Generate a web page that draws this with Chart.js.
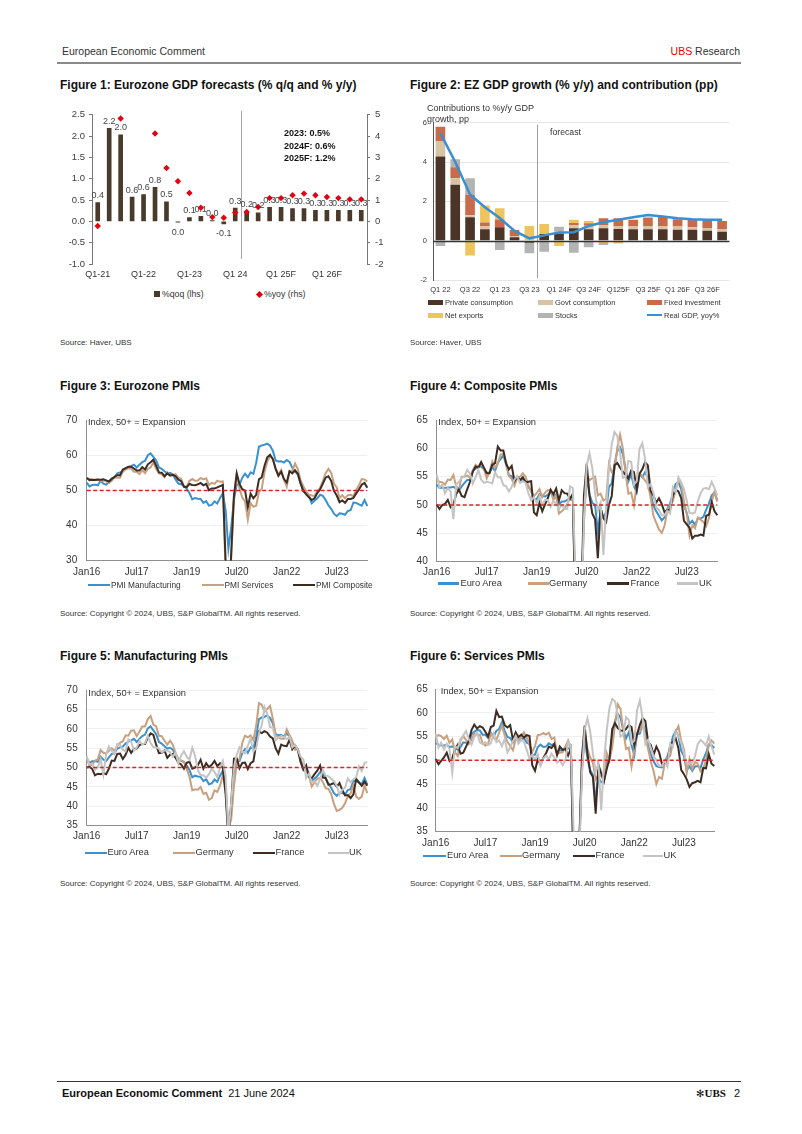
<!DOCTYPE html>
<html>
<head>
<meta charset="utf-8">
<title>European Economic Comment</title>
<script src="https://cdn.jsdelivr.net/npm/chart.js@4.4.1/dist/chart.umd.min.js"></script>
<style>
html,body{margin:0;padding:0;background:#fff;}
body{width:802px;height:1134px;position:relative;overflow:hidden;font-family:'Liberation Sans',Arial,sans-serif;color:#222;}
.t{position:absolute;white-space:nowrap;color:#333;}
canvas{position:absolute;}
.blk{position:absolute;}
.ttl{font-size:12px;line-height:14px;font-weight:bold;color:#111;}
.src{font-size:8px;line-height:10px;color:#333;}
.lg{font-size:9.3px;line-height:11px;color:#333;}
.ln{position:absolute;height:2.5px;}
</style>
</head>
<body>

<!-- header -->
<div class="t" style="left:62px;top:45px;font-size:10.5px;line-height:12px;">European Economic Comment</div>
<div class="t" style="right:62px;top:45px;font-size:10.5px;line-height:12px;"><span style="color:#e60000">UBS</span> Research</div>
<div class="blk" style="left:57px;top:62px;width:684px;height:2px;background:#8a8a8a"></div>

<!-- titles -->
<div class="t ttl" style="left:60px;top:78px;">Figure 1: Eurozone GDP forecasts (% q/q and % y/y)</div>
<div class="t ttl" style="left:410px;top:78px;">Figure 2: EZ GDP growth (% y/y) and contribution (pp)</div>
<div class="t ttl" style="left:60px;top:379px;">Figure 3: Eurozone PMIs</div>
<div class="t ttl" style="left:410px;top:379px;">Figure 4: Composite PMIs</div>
<div class="t ttl" style="left:60px;top:649px;">Figure 5: Manufacturing PMIs</div>
<div class="t ttl" style="left:410px;top:649px;">Figure 6: Services PMIs</div>

<!-- canvases -->
<canvas id="c1" width="340" height="180" style="left:55px;top:104px;width:340px;height:180px"></canvas>
<canvas id="c2" width="335" height="190" style="left:405px;top:110px;width:335px;height:190px"></canvas>
<canvas id="c3" width="320" height="175" style="left:55px;top:405px;width:320px;height:175px"></canvas>
<canvas id="c4" width="320" height="175" style="left:405px;top:405px;width:320px;height:175px"></canvas>
<canvas id="c5" width="320" height="175" style="left:55px;top:675px;width:320px;height:175px"></canvas>
<canvas id="c6" width="320" height="175" style="left:405px;top:675px;width:320px;height:175px"></canvas>

<!-- chart 1 annotations & legend -->
<div class="t" style="left:284px;top:127.5px;font-size:9px;line-height:11px;font-weight:bold;color:#111">2023: 0.5%</div>
<div class="t" style="left:284px;top:140.5px;font-size:9px;line-height:11px;font-weight:bold;color:#111">2024F: 0.6%</div>
<div class="t" style="left:284px;top:152.5px;font-size:9px;line-height:11px;font-weight:bold;color:#111">2025F: 1.2%</div>
<div class="blk" style="left:154px;top:291.3px;width:6px;height:6px;background:#4a3a2c"></div>
<div class="t" style="left:162px;top:289.3px;font-size:8.7px;line-height:10px;">%qoq (lhs)</div>
<div class="blk" style="left:256.5px;top:291.8px;width:5px;height:5px;background:#e3000f;transform:rotate(45deg)"></div>
<div class="t" style="left:264px;top:289.3px;font-size:8.7px;line-height:10px;">%yoy (rhs)</div>

<!-- chart 2 annotations & legend -->
<div class="t" style="left:427px;top:102.5px;font-size:9px;line-height:11px;">Contributions to %y/y GDP</div>
<div class="t" style="left:427px;top:113.8px;font-size:9px;line-height:11px;">growth, pp</div>
<div class="t" style="left:550px;top:127px;font-size:8.7px;line-height:10px;">forecast</div>
<div class="blk" style="left:428px;top:300.2px;width:15px;height:5px;background:#4a3528"></div>
<div class="t" style="left:445px;top:298.2px;font-size:7.5px;line-height:9px;">Private consumption</div>
<div class="blk" style="left:538px;top:300.2px;width:15px;height:5px;background:#d9c3a5"></div>
<div class="t" style="left:555px;top:298.2px;font-size:7.5px;line-height:9px;">Govt consumption</div>
<div class="blk" style="left:647px;top:300.2px;width:15px;height:5px;background:#c96a4a"></div>
<div class="t" style="left:664px;top:298.2px;font-size:7.5px;line-height:9px;">Fixed investment</div>
<div class="blk" style="left:428px;top:312.5px;width:15px;height:5px;background:#eec55a"></div>
<div class="t" style="left:445px;top:310.5px;font-size:7.5px;line-height:9px;">Net exports</div>
<div class="blk" style="left:538px;top:312.5px;width:15px;height:5px;background:#b3b3b3"></div>
<div class="t" style="left:555px;top:310.5px;font-size:7.5px;line-height:9px;">Stocks</div>
<div class="blk" style="left:647px;top:314px;width:15px;height:2px;background:#3a8fd0"></div>
<div class="t" style="left:664px;top:310.5px;font-size:7.5px;line-height:9px;">Real GDP, yoy%</div>

<!-- PMI chart notes -->
<div class="t" style="left:88px;top:417.2px;font-size:9.3px;line-height:11px;">Index, 50+ = Expansion</div>
<div class="t" style="left:438.3px;top:417.2px;font-size:9.3px;line-height:11px;">Index, 50+ = Expansion</div>
<div class="t" style="left:88.3px;top:687.8px;font-size:9.3px;line-height:11px;">Index, 50+ = Expansion</div>
<div class="t" style="left:440.7px;top:685.5px;font-size:9.3px;line-height:11px;">Index, 50+ = Expansion</div>

<!-- chart 3 legend -->
<div class="ln" style="left:88.3px;top:583.8px;width:22px;background:#3a91d0"></div>
<div class="t" style="left:111px;top:580px;font-size:8.3px;line-height:10px;">PMI Manufacturing</div>
<div class="ln" style="left:201.7px;top:583.8px;width:22px;background:#c9a07e"></div>
<div class="t" style="left:224.5px;top:580px;font-size:8.3px;line-height:10px;">PMI Services</div>
<div class="ln" style="left:293.3px;top:583.8px;width:22px;background:#3e2c22"></div>
<div class="t" style="left:316px;top:580px;font-size:8.3px;line-height:10px;">PMI Composite</div>

<!-- chart 4 legend -->
<div class="ln" style="left:438.3px;top:582px;width:21px;background:#3a91d0"></div>
<div class="t lg" style="left:460.5px;top:577.8px;">Euro Area</div>
<div class="ln" style="left:527.5px;top:582px;width:21px;background:#c9a07e"></div>
<div class="t lg" style="left:549px;top:577.8px;">Germany</div>
<div class="ln" style="left:607px;top:582px;width:22px;background:#3e2c22"></div>
<div class="t lg" style="left:630.5px;top:577.8px;">France</div>
<div class="ln" style="left:677px;top:582px;width:21px;background:#c4c4c4"></div>
<div class="t lg" style="left:699px;top:577.8px;">UK</div>

<!-- chart 5 legend -->
<div class="ln" style="left:85px;top:851.5px;width:22px;background:#3a91d0"></div>
<div class="t lg" style="left:107.5px;top:847.2px;">Euro Area</div>
<div class="ln" style="left:173.3px;top:851.5px;width:22px;background:#c9a07e"></div>
<div class="t lg" style="left:195.5px;top:847.2px;">Germany</div>
<div class="ln" style="left:253.3px;top:851.5px;width:22px;background:#3e2c22"></div>
<div class="t lg" style="left:275.5px;top:847.2px;">France</div>
<div class="ln" style="left:327.5px;top:851.5px;width:21px;background:#c4c4c4"></div>
<div class="t lg" style="left:349px;top:847.2px;">UK</div>

<!-- chart 6 legend -->
<div class="ln" style="left:423.3px;top:854.5px;width:23px;background:#3a91d0"></div>
<div class="t lg" style="left:447px;top:850.2px;">Euro Area</div>
<div class="ln" style="left:500px;top:854.5px;width:22px;background:#c9a07e"></div>
<div class="t lg" style="left:522px;top:850.2px;">Germany</div>
<div class="ln" style="left:573.3px;top:854.5px;width:22px;background:#3e2c22"></div>
<div class="t lg" style="left:595.5px;top:850.2px;">France</div>
<div class="ln" style="left:643px;top:854.5px;width:20px;background:#c4c4c4"></div>
<div class="t lg" style="left:663.5px;top:850.2px;">UK</div>

<!-- sources -->
<div class="t src" style="left:60px;top:338px;">Source: Haver, UBS</div>
<div class="t src" style="left:410px;top:338px;">Source: Haver, UBS</div>
<div class="t src" style="left:60px;top:609px;">Source: Copyright © 2024, UBS, S&amp;P GlobalTM. All rights reserved.</div>
<div class="t src" style="left:410px;top:609px;">Source: Copyright © 2024, UBS, S&amp;P GlobalTM. All rights reserved.</div>
<div class="t src" style="left:60px;top:879px;">Source: Copyright © 2024, UBS, S&amp;P GlobalTM. All rights reserved.</div>
<div class="t src" style="left:410px;top:879px;">Source: Copyright © 2024, UBS, S&amp;P GlobalTM. All rights reserved.</div>

<!-- footer -->
<div class="blk" style="left:57px;top:1081px;width:684px;height:1px;background:#333"></div>
<div class="t" style="left:62px;top:1087px;font-size:11px;line-height:13px;color:#111"><b>European Economic Comment</b><span style="margin-left:6px">21 June 2024</span></div>
<div class="t" style="right:62px;top:1087px;font-size:11px;line-height:13px;color:#111"><span style="font-family:'DejaVu Sans';font-size:10px">✻</span><span style="font-family:'Liberation Serif',serif;font-weight:bold">UBS</span><span style="margin-left:8px">2</span></div>

<script>
// ---------------- DATA ----------------
// Figure 1
const gdpQuarters = ['Q1-21','Q2-21','Q3-21','Q4-21','Q1-22','Q2-22','Q3-22','Q4-22','Q1-23','Q2-23','Q3-23','Q4-23',
  'Q1 24','Q2 24','Q3 24','Q4 24','Q1 25F','Q2 25F','Q3 25F','Q4 25F','Q1 26F','Q2 26F','Q3 26F','Q4 26F'];
const gdpTickLabels = ['Q1-21','Q1-22','Q1-23','Q1 24','Q1 25F','Q1 26F'];
const gdpQoq = [0.44,2.18,2.03,0.57,0.63,0.80,0.46,-0.02,0.09,0.12,0.02,-0.06,0.31,0.23,0.20,0.33,0.33,0.30,0.30,0.26,0.26,0.26,0.26,0.26];
const gdpYoy = [-0.22,14.2,4.82,5.4,5.6,4.12,2.50,1.88,1.33,0.64,0.20,0.17,0.41,0.44,0.67,1.09,1.09,1.22,1.30,1.22,1.14,1.09,1.03,1.03];
const gdpForecastAfter = 'Q1 24';

// Figure 2
const contribQuarters = ['Q1 22','Q2 22','Q3 22','Q4 22','Q1 23','Q2 23','Q3 23','Q4 23','Q1 24F','Q2 24F','Q3 24F','Q4 24F',
  'Q125F','Q2 25F','Q3 25F','Q4 25F','Q1 26F','Q2 26F','Q3 26F','Q4 26F'];
const contribTickLabels = ['Q1 22','Q3 22','Q1 23','Q3 23','Q1 24F','Q3 24F','Q125F','Q3 25F','Q1 26F','Q3 26F'];
const privCons   = [4.28,2.84,1.19,0.58,0.68,0.17,-0.10,0.34,0.37,0.63,0.58,0.63,0.60,0.58,0.58,0.58,0.55,0.55,0.51,0.46];
const govtCons   = [0.76,0.33,0.10,0.17,0.00,0.07,0.00,0.00,0.12,0.17,0.18,0.17,0.15,0.14,0.17,0.17,0.17,0.13,0.14,0.14];
const fixedInv   = [0.76,0.56,1.04,0.17,0.40,0.30,0.00,0.00,0.00,0.10,0.12,0.34,0.39,0.34,0.43,0.48,0.37,0.38,0.37,0.40];
const netExports = [0.00,0.00,-0.76,0.87,0.57,0.00,0.75,0.51,-0.27,0.16,0.12,-0.12,-0.15,0.00,0.00,0.00,0.00,0.00,0.00,0.00];
const stocks     = [-0.27,0.41,0.84,0.00,-0.48,0.00,-0.54,-0.56,0.22,-0.61,-0.34,-0.10,0.00,0.00,0.00,0.00,0.00,0.00,0.00,0.00];
const realGdpYoy = [5.47,4.00,2.35,1.70,1.15,0.50,0.12,0.27,0.42,0.43,0.75,0.94,1.06,1.19,1.31,1.23,1.14,1.09,1.06,1.06];
const contribForecastAfter = 'Q3 23';

// Figures 3-6 (monthly, Jan16 - Jun24)
const MONTH_NAMES = ['Jan','Feb','Mar','Apr','May','Jun','Jul','Aug','Sep','Oct','Nov','Dec'];
const pmiMonths = [];
for (let yr = 16; yr <= 24; yr++) for (let m = 0; m < 12; m++) if (yr < 24 || m < 6) pmiMonths.push(MONTH_NAMES[m] + yr);
const pmiTickLabels = ['Jan16','Jul17','Jan19','Jul20','Jan22','Jul23'];
const EXPANSION_LEVEL = 50;

const ezMfg = [52.3,51.2,51.6,51.7,51.5,52.8,52.0,51.7,52.6,53.5,53.7,54.9,
  55.2,55.4,56.2,56.7,57.0,57.4,56.6,57.4,58.1,58.5,60.1,60.6,
  59.6,58.6,56.6,56.2,55.5,54.9,55.1,54.6,53.2,52.0,51.8,51.4,
  50.5,49.3,47.5,47.9,47.7,47.6,46.5,47.0,45.7,45.9,46.9,46.3,
  47.9,49.2,44.5,33.4,39.4,47.4,51.8,51.7,53.7,54.8,53.8,55.2,
  54.8,57.9,62.5,62.9,63.1,63.4,62.8,61.4,58.6,58.3,58.4,58.0,
  58.7,58.2,56.5,55.5,54.6,52.1,49.8,49.6,48.4,46.4,47.1,47.8,
  48.8,48.5,47.3,45.8,44.8,43.4,42.7,43.5,43.4,43.1,44.2,44.4,
  46.6,46.5,46.1,45.7,47.3,45.6];
const ezSvc = [53.6,53.3,53.1,53.1,53.3,52.8,52.9,52.8,52.2,52.8,53.8,53.7,
  53.7,55.5,56.0,56.4,56.3,55.4,55.4,54.7,55.8,55.0,56.2,56.6,
  58.0,56.2,54.9,54.7,53.8,55.2,54.2,54.4,54.7,53.7,53.4,51.2,
  51.2,52.8,53.3,52.8,52.9,53.6,53.2,53.5,51.6,52.2,51.9,52.8,
  52.5,52.6,26.4,12.0,30.5,48.3,54.7,50.5,48.0,46.9,41.7,46.4,
  45.4,45.7,49.6,50.5,55.2,58.3,59.8,59.0,56.4,54.6,55.9,53.1,
  51.1,55.5,55.6,57.7,56.1,53.0,51.2,49.8,48.8,48.6,48.5,49.8,
  50.8,52.7,55.0,56.2,55.1,52.0,50.9,47.9,48.7,47.8,48.7,48.8,
  48.4,50.2,51.5,53.3,53.2,52.6];
const ezComp = [53.6,53.0,53.1,53.0,53.1,53.1,53.2,52.9,52.6,53.3,53.9,54.4,
  54.4,56.0,56.4,56.8,56.8,56.3,55.7,55.7,56.7,56.0,57.5,58.1,
  58.8,57.1,55.2,55.1,54.1,54.9,54.3,54.5,54.1,53.1,52.7,51.1,
  51.0,51.9,51.6,51.5,51.8,52.2,51.5,51.9,50.1,50.6,50.6,50.9,
  51.3,51.6,29.7,13.6,31.9,48.5,54.9,51.9,50.4,50.0,45.3,49.1,
  47.8,48.8,53.2,53.8,57.1,59.5,60.2,59.0,56.2,54.2,55.4,53.3,
  52.3,55.5,54.9,55.8,54.8,52.0,49.9,48.9,48.1,47.3,47.8,49.3,
  50.3,52.0,53.7,54.1,52.8,49.9,48.6,46.7,47.2,46.5,47.6,47.6,
  47.9,49.2,50.3,51.7,52.2,50.8];
const deComp = [54.5,54.1,54.0,53.6,54.5,54.4,55.3,53.3,52.8,55.0,55.0,55.2,
  54.8,56.1,57.1,56.7,57.4,56.4,54.7,55.8,57.7,56.6,57.3,58.9,
  59.0,57.6,55.1,54.6,53.4,54.8,55.0,55.6,55.0,53.4,52.3,51.6,
  52.1,52.8,51.4,52.2,52.6,52.6,50.9,51.7,48.5,48.9,49.4,50.2,
  51.2,50.7,35.0,17.4,32.3,47.0,55.3,54.4,54.7,55.0,51.7,52.0,
  50.8,51.1,57.3,55.8,56.2,60.1,62.4,60.0,55.5,52.0,52.2,49.9,
  53.8,55.6,55.1,54.3,53.7,51.3,48.1,46.9,45.7,45.1,46.3,49.0,
  49.9,50.7,52.6,54.2,53.9,50.6,48.5,44.6,46.4,45.9,47.8,47.4,
  47.0,46.3,47.7,50.6,52.4,50.6];
const frComp = [50.1,49.3,50.0,50.2,50.9,49.6,50.1,51.9,52.7,51.6,51.4,52.8,
  54.1,55.9,56.8,56.6,57.6,56.6,55.6,55.6,57.1,57.4,60.3,59.6,
  59.6,57.3,56.3,56.9,54.2,55.0,54.4,54.9,54.0,54.1,54.2,48.7,
  48.2,50.4,48.9,50.1,51.2,52.7,51.9,52.9,50.8,52.6,52.1,52.0,
  51.1,52.0,28.9,11.1,32.1,51.7,57.3,51.6,48.5,47.5,40.6,49.5,
  47.7,47.0,50.0,51.6,57.0,57.4,56.6,55.9,55.3,54.7,56.1,55.8,
  52.7,55.5,56.3,57.6,57.0,52.5,51.7,50.4,51.2,50.2,48.7,49.1,
  49.1,51.7,52.7,52.4,51.2,47.2,46.6,46.0,44.1,44.6,44.6,44.8,
  44.6,48.1,48.3,50.5,48.9,48.2];
const ukComp = [55.4,53.1,53.6,52.1,53.0,52.4,47.5,53.6,54.1,54.8,55.1,56.2,
  55.5,53.8,54.9,56.2,54.5,53.9,54.1,54.0,53.8,55.8,54.9,54.9,
  53.5,53.3,52.4,53.2,54.5,55.1,53.9,54.2,53.9,52.1,50.8,51.4,
  50.3,51.5,50.0,50.9,50.9,49.7,50.7,50.2,49.3,50.0,49.3,49.3,
  53.3,53.0,36.0,13.8,30.0,47.7,57.0,59.1,56.5,52.1,49.0,50.4,
  41.2,49.6,56.4,60.7,62.9,62.2,59.2,54.8,54.9,57.8,57.6,53.6,
  54.2,59.9,60.9,58.2,53.1,53.7,52.1,49.6,49.1,48.2,48.2,49.0,
  48.5,53.1,52.2,54.9,54.0,52.8,50.8,48.6,48.5,48.7,50.7,52.1,
  52.9,53.0,52.8,54.1,53.0,51.7];
const deMfg = [52.3,50.5,50.7,51.8,52.1,54.5,53.8,53.6,54.3,55.0,54.3,55.6,
  56.4,56.8,58.3,58.2,59.5,59.6,58.1,59.3,60.6,60.6,62.5,63.3,
  61.1,60.6,58.2,58.1,56.9,55.9,56.9,55.9,53.7,52.2,51.8,51.5,
  49.7,47.6,44.1,44.4,44.3,45.0,43.2,43.5,41.7,42.1,44.1,43.7,
  45.3,48.0,45.4,34.5,36.6,45.2,51.0,52.2,56.4,58.2,57.8,58.3,
  57.1,60.7,66.6,66.2,64.4,65.1,65.9,62.6,58.4,57.8,57.4,57.4,
  59.8,58.4,56.9,54.6,54.8,52.0,49.3,49.1,47.8,45.1,46.2,47.1,
  47.3,46.3,44.7,44.5,43.2,40.6,38.8,39.1,39.6,40.8,42.6,43.3,
  45.5,42.5,41.9,42.5,45.4,43.4];
const frMfg = [50.0,50.2,49.6,48.0,48.4,48.3,48.6,48.3,49.7,51.8,51.7,53.5,
  53.6,52.2,53.3,55.1,53.8,54.8,54.9,55.8,56.1,56.1,57.7,58.8,
  58.4,55.9,53.7,53.8,54.4,52.5,53.3,53.5,52.5,51.2,50.8,49.7,
  51.2,51.5,49.7,50.0,50.6,52.0,49.7,51.1,50.1,50.7,51.7,50.4,
  51.1,49.8,43.2,31.5,40.6,52.3,52.4,49.8,51.2,51.3,49.6,51.1,
  51.6,56.1,59.3,58.9,59.4,59.0,58.0,57.5,55.0,53.6,55.9,55.6,
  55.5,57.2,54.7,55.7,54.6,51.4,49.5,50.6,47.7,47.2,48.3,49.2,
  50.5,47.4,47.3,45.6,45.7,46.0,45.1,46.0,44.2,42.8,42.9,42.1,
  43.1,47.1,46.2,45.3,46.4,45.3];
const ukMfg = [52.9,50.8,51.0,49.4,50.1,52.1,48.2,53.4,55.4,54.3,53.4,56.1,
  55.9,54.6,54.2,57.3,56.7,54.3,55.1,56.9,55.9,56.3,58.2,56.3,
  55.3,55.2,54.9,53.9,54.4,54.4,54.0,52.8,53.8,51.1,53.1,54.2,
  52.8,52.0,55.1,53.1,49.4,48.0,48.0,47.4,48.3,49.6,48.9,47.5,
  50.0,51.7,47.8,32.6,40.7,50.1,53.3,55.2,54.1,53.7,55.6,57.5,
  54.1,55.1,58.9,60.9,65.6,63.9,60.4,60.3,57.1,57.8,58.1,57.9,
  57.3,58.0,55.2,55.8,54.6,52.8,52.1,47.3,48.4,46.2,46.5,45.3,
  47.0,49.3,47.9,47.8,47.1,46.5,45.3,43.0,44.3,44.8,47.2,46.2,
  47.0,47.5,50.3,49.1,51.2,51.4];
const deSvc = [55.0,55.3,55.1,54.5,55.2,53.7,54.4,51.7,50.9,54.2,55.1,54.3,
  53.4,54.4,55.6,55.4,55.4,53.7,53.1,53.5,55.6,54.7,54.3,55.8,
  57.3,55.3,53.9,53.0,52.1,54.5,54.1,55.0,55.9,54.7,53.3,51.8,
  53.0,55.3,55.4,55.7,55.4,55.8,54.5,54.8,51.4,51.6,51.7,52.9,
  54.2,52.5,31.7,16.2,32.6,47.3,55.6,52.5,50.6,49.5,46.0,47.0,
  46.7,45.7,51.5,49.9,52.8,57.5,61.8,60.8,56.2,52.4,52.7,48.7,
  52.2,55.8,56.1,57.6,55.0,52.4,49.7,47.7,45.0,46.5,46.1,49.2,
  50.7,50.9,53.7,56.0,57.2,54.1,52.3,47.3,50.3,48.2,49.6,49.3,
  47.7,48.3,50.1,53.2,54.2,53.5];
const frSvc = [50.3,49.2,49.9,50.6,51.6,49.9,50.5,52.3,53.3,51.4,51.6,52.9,
  54.1,56.4,57.5,56.7,57.2,56.9,56.0,55.0,57.0,57.3,60.4,59.1,
  59.2,57.4,56.9,57.4,54.3,55.9,54.9,55.4,54.8,55.3,55.1,49.0,
  47.8,50.2,49.1,50.5,51.5,52.9,52.6,53.4,51.1,52.9,52.2,52.4,
  51.0,52.5,27.4,10.2,31.1,50.7,57.3,51.5,47.5,46.5,38.8,49.1,
  47.3,45.6,48.2,50.3,56.6,57.8,56.8,56.3,56.2,56.6,57.4,57.0,
  53.1,55.5,57.4,58.9,58.3,53.9,53.2,51.2,52.9,51.7,49.3,49.5,
  49.4,53.1,53.9,54.6,52.5,48.0,47.1,46.0,44.4,45.2,45.4,45.7,
  45.4,48.4,48.3,51.3,49.3,48.8];
const ukSvc = [55.6,52.7,53.7,52.3,53.5,52.3,47.4,52.9,52.6,54.5,55.2,56.2,
  54.5,53.3,55.0,55.8,53.8,53.4,53.8,53.2,53.6,55.6,53.8,54.2,
  53.0,54.5,51.7,52.8,54.0,55.1,53.5,54.3,53.9,52.2,50.4,51.2,
  50.1,51.3,48.9,50.4,51.0,50.2,51.4,50.6,49.5,50.0,49.0,50.0,
  53.9,53.2,34.5,13.4,29.0,47.1,56.5,58.8,56.1,51.4,47.6,49.4,
  39.5,49.5,56.3,61.0,62.9,62.4,59.6,55.0,55.4,59.1,58.5,53.6,
  54.1,60.5,62.6,58.9,53.4,54.3,52.6,50.9,50.0,48.8,48.8,49.9,
  48.7,53.5,52.9,55.9,55.2,53.7,51.5,49.5,49.3,49.5,50.9,53.4,
  54.3,53.8,53.1,55.0,52.9,51.2];

// ---------------- STYLE ----------------
const FONT = "'Liberation Sans', Arial, sans-serif";
Chart.defaults.font.family = FONT;
Chart.defaults.color = '#404040';
const C_BLUE = '#3a91d0', C_TAN = '#c9a07e', C_DARK = '#3e2c22', C_GREY = '#c4c4c4';
const base = { responsive:false, animation:false, events:[], plugins:{legend:{display:false}, tooltip:{enabled:false}} };

function dividerPlugin(labels, afterLabel, topOff, botOff, color) {
  return { id:'divider', beforeDatasetsDraw(chart) {
    const xs = chart.scales.x, ca = chart.chartArea, i = labels.indexOf(afterLabel);
    const x = Math.round((xs.getPixelForValue(i) + xs.getPixelForValue(i + 1)) / 2) + 0.5;
    const ctx = chart.ctx; ctx.save(); ctx.strokeStyle = color; ctx.lineWidth = 1;
    ctx.beginPath(); ctx.moveTo(x, ca.top + topOff); ctx.lineTo(x, ca.bottom + botOff); ctx.stroke(); ctx.restore();
  }};
}

// ---------------- FIGURE 1 ----------------
const barLabels = { id:'barLabels', afterDatasetsDraw(chart) {
  const meta = chart.getDatasetMeta(1), ctx = chart.ctx;
  ctx.save(); ctx.font = '9px ' + FONT; ctx.fillStyle = '#444'; ctx.textAlign = 'center'; ctx.textBaseline = 'middle';
  meta.data.forEach((bar, i) => {
    const v = gdpQoq[i]; let s = v.toFixed(1); if (s === '-0.0') s = '0.0';
    ctx.fillText(s, bar.x, v >= 0 ? bar.y - 7 : bar.y + 10);
  });
  ctx.restore();
}};
new Chart(document.getElementById('c1'), {
  type:'bar',
  data:{ labels: gdpQuarters, datasets:[
    { type:'line', label:'%yoy (rhs)', data:gdpYoy, yAxisID:'yR', showLine:false, pointStyle:'rectRot',
      pointRadius:3.2, pointBackgroundColor:'#e3000f', pointBorderWidth:0, order:0 },
    { type:'bar', label:'%qoq (lhs)', data:gdpQoq, yAxisID:'yL', backgroundColor:'#4a3a2c', barThickness:4, order:1 }
  ]},
  options:{ ...base,
    layout:{ padding:{ top:10, right:0, left:0, bottom:0 } },
    scales:{
      x:{ offset:true, grid:{display:false, drawTicks:false}, border:{display:false},
          ticks:{ autoSkip:false, maxRotation:0, minRotation:0, padding:5, color:'#333', font:{size:9},
                  callback:(v,i)=> gdpTickLabels.includes(gdpQuarters[i]) ? gdpQuarters[i] : '' },
          afterFit:s=>{ s.height = 20; } },
      yL:{ position:'left', min:-1, max:2.5,
           ticks:{ stepSize:0.5, padding:4, color:'#404040', font:{size:9.5}, callback:v=>Number(v).toFixed(1) },
           grid:{ drawOnChartArea:false, tickLength:3, tickColor:'#777' }, border:{ color:'#777' },
           afterFit:s=>{ s.width = 37; } },
      yR:{ position:'right', min:-2, max:5,
           ticks:{ stepSize:1, padding:5, color:'#404040', font:{size:9.5} },
           grid:{ drawOnChartArea:false, tickLength:3, tickColor:'#777' }, border:{ color:'#777' },
           afterFit:s=>{ s.width = 28; } }
    }
  },
  plugins:[ barLabels, dividerPlugin(gdpQuarters, gdpForecastAfter, -4, -5, '#a8a8a8') ]
});

// ---------------- FIGURE 2 ----------------
const zeroLine = { id:'zeroLine', afterDatasetsDraw(chart) {
  const y = Math.round(chart.scales.y.getPixelForValue(0)) + 0.5, ca = chart.chartArea, ctx = chart.ctx;
  ctx.save(); ctx.strokeStyle = '#333'; ctx.lineWidth = 1.3;
  ctx.beginPath(); ctx.moveTo(ca.left, y); ctx.lineTo(ca.right, y); ctx.stroke(); ctx.restore();
}};
const stackBar = (label, data, color) => ({ type:'bar', label, data, backgroundColor:color, stack:'contrib',
  barPercentage:0.65, categoryPercentage:1, order:1 });
new Chart(document.getElementById('c2'), {
  type:'bar',
  data:{ labels: contribQuarters, datasets:[
    { type:'line', label:'Real GDP, yoy%', data:realGdpYoy, borderColor:'#3a8fd0', borderWidth:2.5, pointRadius:0,
      tension:0, stack:'gdpLine', order:0 },
    stackBar('Private consumption', privCons, '#4a3528'),
    stackBar('Govt consumption', govtCons, '#d9c3a5'),
    stackBar('Fixed investment', fixedInv, '#c96a4a'),
    stackBar('Net exports', netExports, '#eec55a'),
    stackBar('Stocks', stocks, '#b3b3b3')
  ]},
  options:{ ...base,
    layout:{ padding:{ top:12.7, right:10.5, left:0, bottom:0 } },
    scales:{
      x:{ stacked:true, offset:true, grid:{display:false, drawTicks:false}, border:{display:false},
          ticks:{ autoSkip:false, maxRotation:0, minRotation:0, padding:5, color:'#333', font:{size:7.5},
                  callback:(v,i)=> contribTickLabels.includes(contribQuarters[i]) ? contribQuarters[i] : '' },
          afterFit:s=>{ s.height = 20; } },
      y:{ stacked:true, min:-2, max:6,
          ticks:{ stepSize:2, padding:6, color:'#404040', font:{size:7.5} },
          grid:{ drawTicks:false, color:c => (c.tick && c.tick.value === 0) ? 'rgba(0,0,0,0)' : '#e6e6e6' },
          border:{ color:'#555' },
          afterFit:s=>{ s.width = 28; } }
    }
  },
  plugins:[ zeroLine, dividerPlugin(contribQuarters, contribForecastAfter, 2, -2, '#a0a0a0') ]
});

// ---------------- FIGURES 3-6 ----------------
const expansionLine = { id:'expansionLine', afterDatasetsDraw(chart) {
  const y = chart.scales.y.getPixelForValue(EXPANSION_LEVEL), ca = chart.chartArea, ctx = chart.ctx;
  ctx.save(); ctx.strokeStyle = '#e0202a'; ctx.lineWidth = 1.5; ctx.setLineDash([4, 2.5]);
  ctx.beginPath(); ctx.moveTo(ca.left, y); ctx.lineTo(ca.right, y); ctx.stroke(); ctx.restore();
}};
function pmiChart(id, sets, yMin, yMax, step, g) {
  new Chart(document.getElementById(id), {
    type:'line',
    data:{ labels: pmiMonths, datasets: sets.map((s, i) => ({
      label:s.label, data:s.data, borderColor:s.color, borderWidth:2, pointRadius:0, tension:0, fill:false,
      order: sets.length - i })) },
    options:{ ...base,
      layout:{ padding:{ top:g.padTop, right:g.padRight, left:0, bottom:0 } },
      scales:{
        x:{ grid:{display:false, drawTicks:false}, border:{ display:true, color:'#8f8f8f' },
            ticks:{ autoSkip:false, maxRotation:0, minRotation:0, padding:g.xPad, color:'#333', font:{size:10},
                    callback:(v,i)=> pmiTickLabels.includes(pmiMonths[i]) ? pmiMonths[i] : '' },
            afterFit:s=>{ s.height = g.xH; } },
        y:{ min:yMin, max:yMax,
            ticks:{ stepSize:step, padding:g.yPad, color:'#333', font:{size:10} },
            grid:{ drawTicks:false, color:'#efefef' }, border:{ color:'#8f8f8f' },
            afterFit:s=>{ s.width = g.yW; } }
      }
    },
    plugins:[ expansionLine ]
  });
}
pmiChart('c3', [
  { label:'PMI Manufacturing', data:ezMfg, color:C_BLUE },
  { label:'PMI Services', data:ezSvc, color:C_TAN },
  { label:'PMI Composite', data:ezComp, color:C_DARK }
], 30, 70, 10, { yW:31.7, padTop:6.7, padRight:7.7, xH:19.3, xPad:6, yPad:9.5 });
pmiChart('c4', [
  { label:'Euro Area', data:ezComp, color:C_BLUE },
  { label:'Germany', data:deComp, color:C_TAN },
  { label:'France', data:frComp, color:C_DARK },
  { label:'UK', data:ukComp, color:C_GREY }
], 40, 65, 5, { yW:31.7, padTop:6.7, padRight:7.7, xH:18.3, xPad:5, yPad:9 });
pmiChart('c5', [
  { label:'Euro Area', data:ezMfg, color:C_BLUE },
  { label:'Germany', data:deMfg, color:C_TAN },
  { label:'France', data:frMfg, color:C_DARK },
  { label:'UK', data:ukMfg, color:C_GREY }
], 35, 70, 5, { yW:31.7, padTop:8.3, padRight:7.7, xH:24.3, xPad:5, yPad:9 });
pmiChart('c6', [
  { label:'Euro Area', data:ezSvc, color:C_BLUE },
  { label:'Germany', data:deSvc, color:C_TAN },
  { label:'France', data:frSvc, color:C_DARK },
  { label:'UK', data:ukSvc, color:C_GREY }
], 35, 65, 5, { yW:30.7, padTop:6.7, padRight:10.7, xH:18.3, xPad:5.6, yPad:8 });
</script>
</body>
</html>
